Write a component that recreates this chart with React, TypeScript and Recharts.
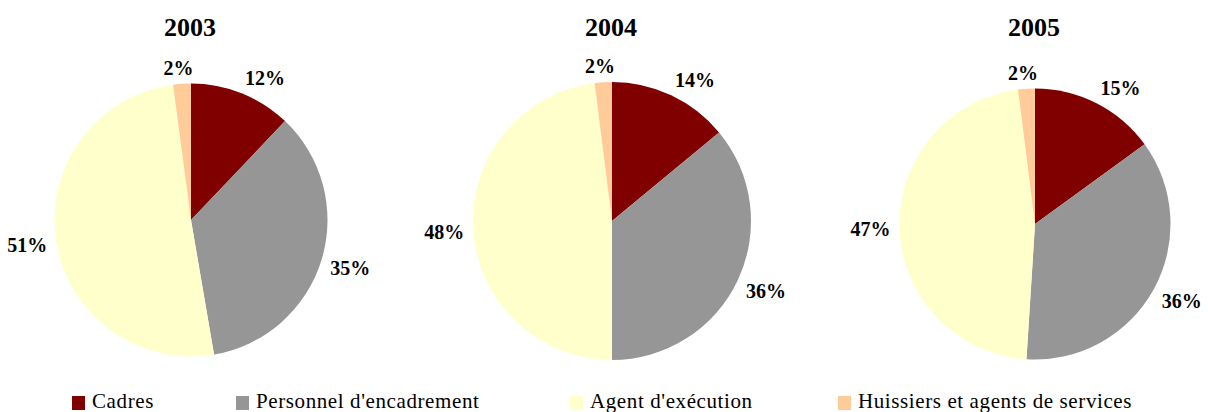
import React from "react";
import { PieChart, Pie, Cell } from "recharts";

const categories = ["Cadres", "Personnel d'encadrement", "Agent d'exécution", "Huissiers et agents de services"];
const colors = ["#800000", "#969696", "#FFFFCC", "#FFCC99"];
const years = ["2003", "2004", "2005"];
const values2003 = [12.1, 35.2, 50.6, 2.1];
const values2004 = [14, 36, 48, 2];
const values2005 = [15, 36, 47, 2];

const series = [values2003, values2004, values2005];
const pieGeom = [
  { cx: 191, cy: 220, r: 136.5 },
  { cx: 612, cy: 221, r: 139 },
  { cx: 1035, cy: 224, r: 135.5 },
];
const legendPos = [72, 236, 570, 838];

const FONT = "'Liberation Serif', 'Times New Roman', serif";
const LABEL_SIZE = 20;

const clamp = (v: number) => Math.max(-1, Math.min(1, v));

const renderLabel = (props: any) => {
  const { cx, cy, midAngle, outerRadius, value } = props;
  const rad = (midAngle * Math.PI) / 180;
  const c = Math.cos(rad);
  const s = Math.sin(rad);
  const gap = 9;
  const px = cx + (outerRadius + gap) * c;
  const py = cy - (outerRadius + gap) * s;
  const shown = Math.round(value);
  const text = `${shown}%`;
  const w = LABEL_SIZE * (0.5 * String(shown).length + 1);
  const h = 14;
  const tx = px + (w / 2) * clamp(3 * c);
  const ty = py - (h / 2) * clamp(3 * s);
  return (
    <text
      x={tx}
      y={ty}
      textAnchor="middle"
      dominantBaseline="central"
      fontFamily={FONT}
      fontWeight="bold"
      fontSize={LABEL_SIZE}
      fill="#000"
    >
      {text}
    </text>
  );
};

export default function App() {
  return (
    <div style={{ position: "absolute", left: 0, top: 0, width: 1208, height: 412, background: "#fff" }}>
      <PieChart width={1208} height={412} margin={{ top: 0, right: 0, bottom: 0, left: 0 }}>
        {series.map((vals, k) => {
          const data = categories.map((name, i) => ({ name, value: vals[i] }));
          const g = pieGeom[k];
          return (
            <Pie
              key={years[k]}
              data={data}
              dataKey="value"
              nameKey="name"
              cx={g.cx}
              cy={g.cy}
              outerRadius={g.r}
              startAngle={90}
              endAngle={-270}
              stroke="none"
              labelLine={false}
              label={renderLabel}
              isAnimationActive={false}
            >
              {data.map((d, i) => (
                <Cell key={d.name} fill={colors[i]} />
              ))}
            </Pie>
          );
        })}
        {years.map((y, k) => (
          <text
            key={y}
            x={pieGeom[k].cx - 1}
            y={36}
            textAnchor="middle"
            fontFamily={FONT}
            fontWeight="bold"
            fontSize={26}
            fill="#000"
          >
            {y}
          </text>
        ))}
        {categories.map((name, i) => (
          <g key={name}>
            <rect x={legendPos[i]} y={396} width={13} height={14} fill={colors[i]} />
            <text
              x={legendPos[i] + 20}
              y={408}
              fontFamily={FONT}
              fontSize={21}
              letterSpacing={0.6}
              fill="#000"
            >
              {name}
            </text>
          </g>
        ))}
      </PieChart>
    </div>
  );
}
